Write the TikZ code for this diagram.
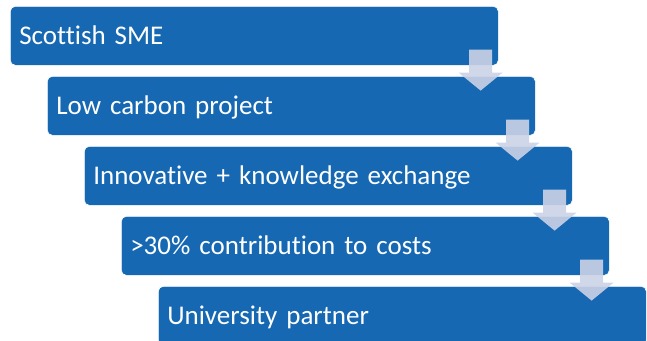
\documentclass[tikz,border=0pt]{standalone}
\usepackage{fontspec}
\setmainfont{Carlito}[Ligatures={NoCommon}]
\usetikzlibrary{calc}

\definecolor{smeblue}{RGB}{22,104,178}
\definecolor{arrowgrey}{RGB}{203,211,230}

\tikzset{
  stepbox/.style={rectangle, rounded corners=5pt, fill=smeblue, draw=white, line width=0.6pt,
    anchor=north west, minimum height=59pt, text width=470pt, inner xsep=9pt, inner ysep=0pt,
    align=left, text=white, font=\fontsize{27}{32}\selectfont, text height=17pt, text depth=0pt},
  stepdown/.pic={
    \fill[arrowgrey, opacity=0.9] (-11.5,-16) -- (11.5,-16) -- (11.5,7) -- (22,7)
      -- (0,25) -- (-22,7) -- (-11.5,7) -- cycle;
  }
}

\begin{document}
\begin{tikzpicture}[x=1pt, y=-1pt]
  \path[use as bounding box, clip] (0,0) rectangle (647,340);

  % the five criteria
  \node[stepbox] (sme) at (10,6) {Scottish SME};
  \node[stepbox] (carbon) at (47,76) {Low carbon project};
  \node[stepbox] (innov) at (84,146) {Innovative + knowledge exchange};
  \node[stepbox] (costs) at (121,216) {>30\% contribution to costs};
  \node[stepbox] (uni) at (158,286) {University partner};

  % arrows from one step down to the next
  \pic at ($(sme.south east)+(-18,0)$) {stepdown};
  \pic at ($(carbon.south east)+(-18,0)$) {stepdown};
  \pic at ($(innov.south east)+(-18,0)$) {stepdown};
  \pic at ($(costs.south east)+(-18,0)$) {stepdown};
\end{tikzpicture}
\end{document}
